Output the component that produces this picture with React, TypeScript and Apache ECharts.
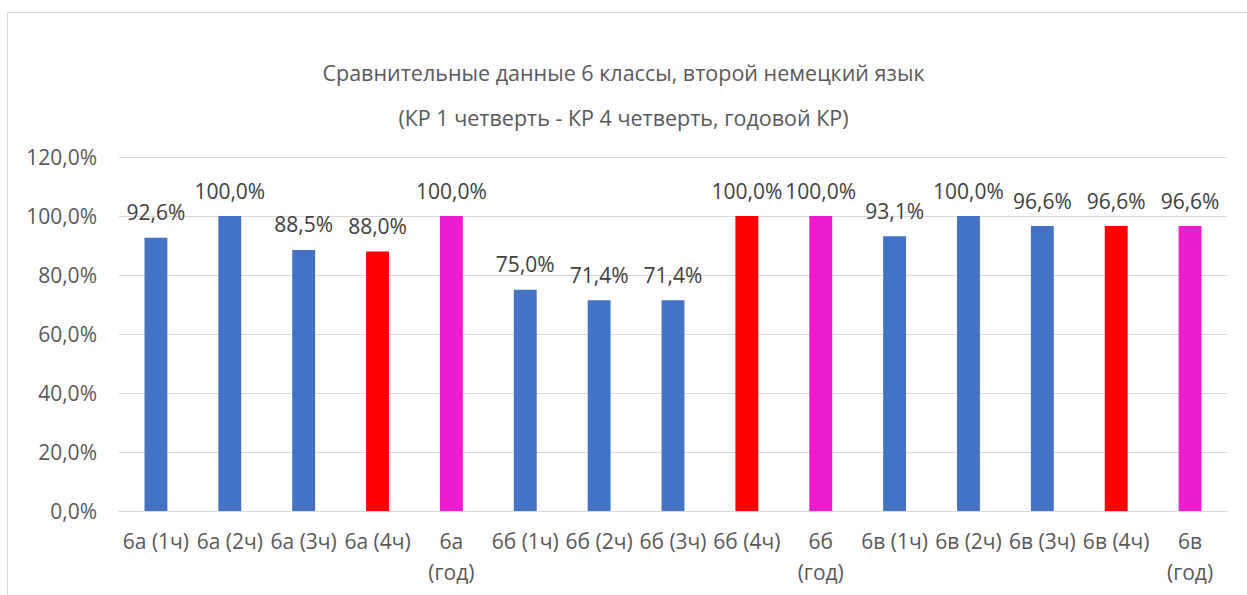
import React, { useEffect, useRef } from "react";
import * as echarts from "echarts";

const titleLine1 = "Сравнительные данные 6 классы, второй немецкий язык";
const titleLine2 = "(КР 1 четверть - КР 4 четверть, годовой КР)";

const categories = [
  "6а (1ч)", "6а (2ч)", "6а (3ч)", "6а (4ч)", "6а (год)",
  "6б (1ч)", "6б (2ч)", "6б (3ч)", "6б (4ч)", "6б (год)",
  "6в (1ч)", "6в (2ч)", "6в (3ч)", "6в (4ч)", "6в (год)",
];

const values = [
  92.6, 100.0, 88.5, 88.0, 100.0,
  75.0, 71.4, 71.4, 100.0, 100.0,
  93.1, 100.0, 96.6, 96.6, 96.6,
];

// bar kind per category: q = quarter, q4 = 4th quarter, y = year
const kinds = [
  "q", "q", "q", "q4", "y",
  "q", "q", "q", "q4", "y",
  "q", "q", "q", "q4", "y",
];

const yTicks = [0, 20, 40, 60, 80, 100, 120];

const colorMap: Record<string, string> = {
  q: "#4472C4",
  q4: "#FF0000",
  y: "#EE1CCF",
};

const FONT = "'Open Sans', 'Noto Sans', sans-serif";

export default function App() {
  const ref = useRef<HTMLDivElement>(null);

  useEffect(() => {
    if (!ref.current) return;
    const chart = echarts.init(ref.current, null, { renderer: "svg" });
    const fmt = (v: number) => v.toFixed(1).replace(".", ",") + "%";
    chart.setOption({
      animation: false,
      backgroundColor: "#ffffff",
      textStyle: { fontFamily: FONT },
      title: [
        {
          text: titleLine1,
          left: "center",
          top: 56,
          textStyle: { fontFamily: FONT, fontSize: 21.5, fontWeight: "normal", color: "#595959" },
        },
        {
          text: titleLine2,
          left: "center",
          top: 101,
          textStyle: { fontFamily: FONT, fontSize: 21.5, fontWeight: "normal", color: "#595959" },
        },
      ],
      graphic: [
        {
          type: "rect",
          shape: { x: 7.5, y: 12.5, width: 1400, height: 800 },
          style: { fill: "none", stroke: "#d9d9d9", lineWidth: 1 },
          silent: true,
        },
      ],
      grid: { left: 119, right: 20, top: 157, bottom: 84, containLabel: false },
      xAxis: {
        type: "category",
        data: categories,
        axisLine: { show: true, lineStyle: { color: "#d9d9d9", width: 1 } },
        axisTick: { show: false },
        axisLabel: {
          interval: 0,
          margin: 14,
          color: "#595959",
          fontSize: 21,
          fontFamily: FONT,
          lineHeight: 31,
          formatter: (v: string) => v.replace(" (год)", "\n(год)"),
        },
      },
      yAxis: {
        type: "value",
        min: yTicks[0],
        max: yTicks[yTicks.length - 1],
        interval: yTicks[1] - yTicks[0],
        axisLine: { show: false },
        axisTick: { show: false },
        splitLine: { lineStyle: { color: "#d9d9d9", width: 1 } },
        axisLabel: {
          margin: 22,
          color: "#595959",
          fontSize: 21,
          fontFamily: FONT,
          formatter: (v: number) => fmt(v),
        },
      },
      series: [
        {
          type: "bar",
          barWidth: "31%",
          data: values.map((v, i) => ({
            value: v,
            itemStyle: { color: colorMap[kinds[i]] },
          })),
          label: {
            show: true,
            position: "top",
            distance: 15,
            color: "#404040",
            fontSize: 21,
            fontFamily: FONT,
            formatter: (p: any) => fmt(p.value),
          },
        },
      ],
    });
    return () => chart.dispose();
  }, []);

  return (
    <div
      ref={ref}
      style={{ position: "fixed", left: 0, top: 0, width: 1247, height: 595 }}
    />
  );
}
